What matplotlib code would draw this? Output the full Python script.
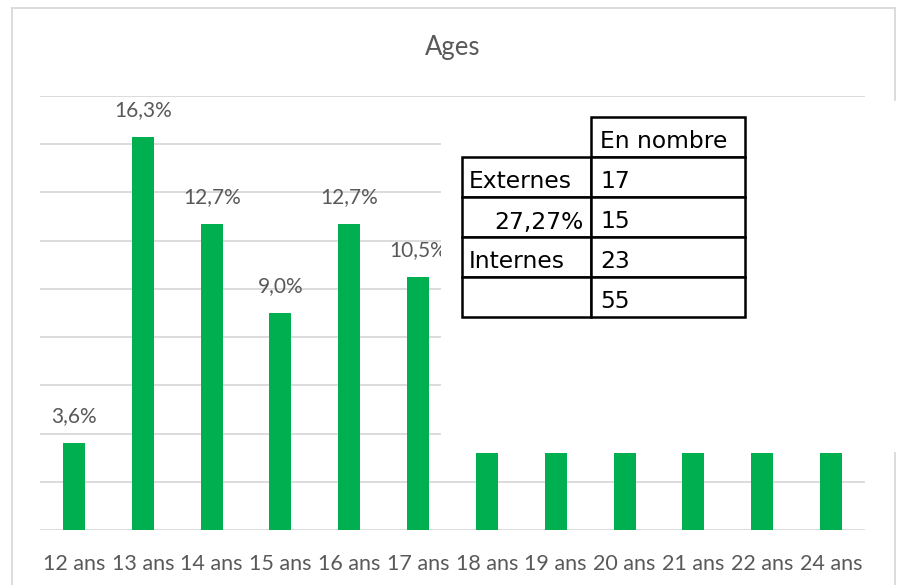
import matplotlib
matplotlib.use("Agg")
import matplotlib.pyplot as plt
from matplotlib.patches import Rectangle
import numpy as np

# chart data
ages = ["12 ans", "13 ans", "14 ans", "15 ans", "16 ans", "17 ans",
        "18 ans", "19 ans", "20 ans", "21 ans", "22 ans", "24 ans"]
pct = [3.6, 16.3, 12.7, 9.0, 12.7, 10.5, 3.2, 3.2, 3.2, 3.2, 3.2, 3.2]
pct_labels = ["3,6%", "16,3%", "12,7%", "9,0%", "12,7%", "10,5%",
              None, None, None, None, None, None]

# small table pasted over the chart
tab_head = "En nombre"
tab_left = ["Externes", "27,27%", "Internes", ""]
tab_right = ["17", "15", "23", "55"]

W, H = 901, 585
GREEN = "#00B050"
GREY = "#595959"
GRID = "#D9D9D9"

fig = plt.figure(figsize=(W / 100, H / 100), dpi=100)
fig.patch.set_facecolor("white")

ax = fig.add_axes([39.6 / W, 55 / H, (865.4 - 39.6) / W, (489 - 55) / H])
x = np.arange(len(ages))
ax.bar(x, pct, width=0.32, color=GREEN, zorder=3)
for xi, v, lab in zip(x, pct, pct_labels):
    if lab:
        ax.text(xi, v + 0.7, lab, ha="center", va="bottom", fontsize=15,
                family="Lato", color=GREY, zorder=4)

ax.set_xlim(-0.5, len(ages) - 0.5)
ax.set_ylim(0, 18)
ax.set_yticks(np.arange(0, 19, 2))
ax.yaxis.grid(True, color=GRID, linewidth=1.3, zorder=0)
ax.tick_params(axis="y", left=False, labelleft=False)
ax.set_xticks(x)
ax.set_xticklabels(ages, family="Lato", fontsize=15.5, color=GREY)
ax.tick_params(axis="x", length=0, pad=17)
for s in ax.spines.values():
    s.set_visible(False)

# overlay in pixel coordinates: title, frame, table
ov = fig.add_axes([0, 0, 1, 1], zorder=5)
ov.set_xlim(0, W)
ov.set_ylim(H, 0)
ov.axis("off")
ov.patch.set_alpha(0)

ov.text(453, 47, "Ages", ha="center", va="center", family="Lato",
        fontsize=18.5, color=GREY)
ov.plot([12, 12], [8, H], color=GRID, lw=1.3)
ov.plot([12, 895], [8, 8], color=GRID, lw=1.3)
ov.plot([895, 895], [8, 100], color=GRID, lw=1.3)
ov.plot([895, 895], [453, H], color=GRID, lw=1.3)

# white block behind the pasted table
ov.add_patch(Rectangle((441, 101), W - 441, 453 - 101, facecolor="white",
                       edgecolor="none"))

xl, xm, xr = 462, 591, 745
rows = [117, 157, 197, 237, 277, 317]
tkw = dict(family="DejaVu Sans", fontsize=16.8, color="black", va="center")
ov.add_patch(Rectangle((xm, rows[0]), xr - xm, rows[1] - rows[0],
                       facecolor="white", edgecolor="black", lw=1.8))
ov.text(xm + 9, (rows[0] + rows[1]) / 2 + 5, tab_head, ha="left", **tkw)
for i in range(4):
    y0, y1 = rows[i + 1], rows[i + 2]
    ov.add_patch(Rectangle((xl, y0), xm - xl, y1 - y0,
                           facecolor="white", edgecolor="black", lw=1.8))
    ov.add_patch(Rectangle((xm, y0), xr - xm, y1 - y0,
                           facecolor="white", edgecolor="black", lw=1.8))
    yc = (y0 + y1) / 2 + 5
    if tab_left[i].endswith("%"):
        ov.text(xm - 8, yc, tab_left[i], ha="right", **tkw)
    else:
        ov.text(xl + 7, yc, tab_left[i], ha="left", **tkw)
    ov.text(xm + 9, yc, tab_right[i], ha="left", **tkw)

fig.savefig("out.png", dpi=100)
